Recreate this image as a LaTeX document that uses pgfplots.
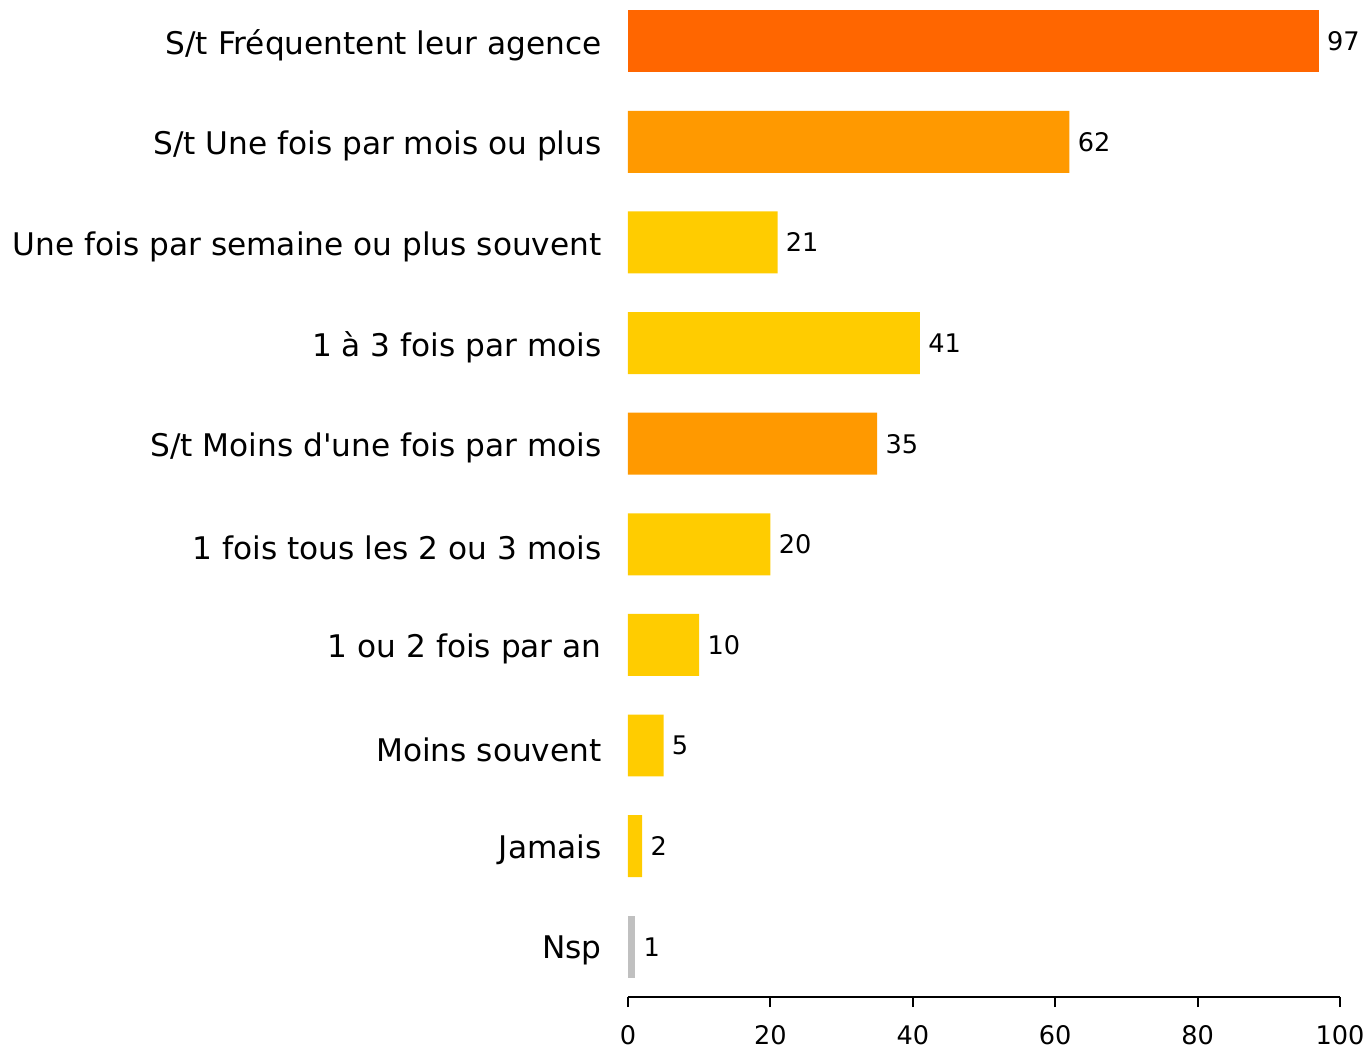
\documentclass[border=0pt]{standalone}
\usepackage{pgfplots}
\pgfplotsset{compat=1.18}
\usepackage{fontspec}
\setmainfont{DejaVu Sans}
\definecolor{cdark}{HTML}{FF6600}
\definecolor{cmid}{HTML}{FF9900}
\definecolor{cyel}{HTML}{FFCC00}
\definecolor{cgray}{HTML}{C0C0C0}
\begin{document}
\begin{tikzpicture}
\begin{axis}[
  at={(0,0)}, anchor=south west,
  scale only axis,
  width=356pt, height=498.5pt,
  xbar, bar shift=0pt, bar width=0.616,
  xmin=0, xmax=100,
  ymin=-0.41, ymax=9.5,
  y dir=reverse,
  axis x line*=bottom, axis y line*=left,
  separate axis lines,
  y axis line style={draw=none},
  x axis line style={line width=1pt},
  xtick={0,20,40,60,80,100},
  xtick style={line width=1pt, black},
  tick align=outside,
  major tick length=5pt,
  ytick={0,...,9},
  ytick style={draw=none},
  yticklabels={S/t Fréquentent leur agence, S/t Une fois par mois ou plus, Une fois par semaine ou plus souvent, 1 à 3 fois par mois, S/t Moins d\textquotesingle une fois par mois, 1 fois tous les 2 ou 3 mois, 1 ou 2 fois par an, Moins souvent, Jamais, Nsp},
  yticklabel style={font=\fontsize{15.6pt}{18pt}\selectfont, inner sep=0pt, anchor=east, xshift=-8pt, yshift=-2pt},
  xticklabel style={font=\fontsize{12.8pt}{15pt}\selectfont, inner sep=0pt, anchor=north, yshift=-9pt},
  /pgf/number format/assume math mode=true,
  nodes near coords,
  nodes near coords style={font=\fontsize{12.8pt}{15pt}\selectfont, anchor=west, inner sep=0pt, xshift=4pt, black},
  clip=false,
]
\addplot[fill=cdark, draw=none] coordinates {(97,0)};
\addplot[fill=cmid, draw=none] coordinates {(62,1) (35,4)};
\addplot[fill=cyel, draw=none] coordinates {(21,2) (41,3) (20,5) (10,6) (5,7) (2,8)};
\addplot[fill=cgray, draw=none] coordinates {(1,9)};
\end{axis}
\path (-314pt,-25.5pt) rectangle (370.5pt,498.5pt);
\end{tikzpicture}
\end{document}
